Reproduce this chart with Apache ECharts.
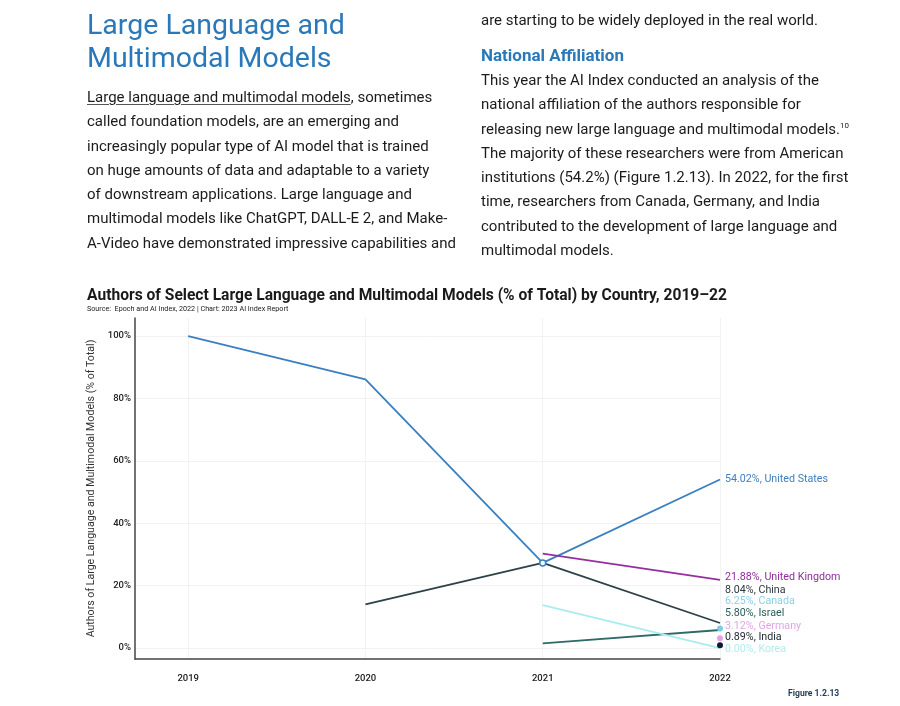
<!DOCTYPE html>
<html>
<head>
<meta charset="utf-8">
<script src="https://cdn.jsdelivr.net/npm/echarts@6/dist/echarts.min.js"></script>
<style>
  html, body { margin: 0; padding: 0; background: #fff; }
  #wrap { position: relative; width: 900px; height: 706px; overflow: hidden; font-family: Roboto, "Noto Sans", sans-serif; color: #1b1b1b; }
  #chart { position: absolute; left: 0; top: 0; width: 900px; height: 706px; }
  .txt { position: absolute; pointer-events: none; }
  .h1 { left: 87px; top: 8px; font-size: 28.5px; line-height: 33px; color: #2a78b8; font-weight: 400; }
  .body { font-size: 15px; line-height: 24.3px; }
  .left { left: 87px; top: 85px; }
  .right { left: 481px; top: 68px; }
  .top { left: 481px; top: 11px; font-size: 15px; }
  .h2 { left: 481px; top: 45px; font-size: 17px; font-weight: 700; color: #2a78b8; }
  u { text-decoration-color: #555; text-underline-offset: 2px; }
  sup { font-size: 8px; line-height: 0; vertical-align: 6px; }
</style>
</head>
<body>
<div id="wrap">
  <div id="chart"></div>
  <div class="txt h1">Large Language and<br>Multimodal Models</div>
  <div class="txt body left"><u>Large language and multimodal models</u>, sometimes<br>called foundation models, are an emerging and<br>increasingly popular type of AI model that is trained<br>on huge amounts of data and adaptable to a variety<br>of downstream applications. Large language and<br>multimodal models like ChatGPT, DALL-E 2, and Make-<br>A-Video have demonstrated impressive capabilities and</div>
  <div class="txt top">are starting to be widely deployed in the real world.</div>
  <div class="txt h2">National Affiliation</div>
  <div class="txt body right">This year the AI Index conducted an analysis of the<br>national affiliation of the authors responsible for<br>releasing new large language and multimodal models.<sup>10</sup><br>The majority of these researchers were from American<br>institutions (54.2%) (Figure 1.2.13). In 2022, for the first<br>time, researchers from Canada, Germany, and India<br>contributed to the development of large language and<br>multimodal models.</div>
</div>
<script>
const years = [2019, 2020, 2021, 2022];
const yTicks = [0, 20, 40, 60, 80, 100];
const unitedStates = [100, 86.1, 27.3, 54.02];
const unitedKingdom = [null, null, 30.3, 21.88];
const china = [null, 14.0, 27.3, 8.04];
const canada = [null, null, null, 6.25];
const israel = [null, null, 1.5, 5.80];
const germany = [null, null, null, 3.12];
const india = [null, null, null, 0.89];
const korea = [null, null, 13.8, 0.00];

const seriesDefs = [
  { name: 'United States', values: unitedStates, color: '#3a7fc1', labelColor: '#3d7fbf', dy: 0 },
  { name: 'United Kingdom', values: unitedKingdom, color: '#932f9f', labelColor: '#8e2e9c', dy: -2 },
  { name: 'China', values: china, color: '#2d4248', labelColor: '#2b3a40', dy: -33 },
  { name: 'Canada', values: canada, color: '#7fcbe8', labelColor: '#8ccfe9', dy: -27 },
  { name: 'Israel', values: israel, color: '#2c6b68', labelColor: '#2d5c5c', dy: -16.5 },
  { name: 'Germany', values: germany, color: '#e3a2ea', labelColor: '#e2a4e8', dy: -12.5 },
  { name: 'India', values: india, color: '#0e1a38', labelColor: '#1e2633', dy: -7.5 },
  { name: 'Korea', values: korea, color: '#a9ecf0', labelColor: '#b3ebef', dy: 1.5 }
];

function buildData(def, single) {
  const last = def.values.length - 1;
  return def.values.map(function (v, i) {
    const item = { value: [years[i], v] };
    if (i === last) {
      item.label = {
        show: true, position: 'right', distance: single ? 2 : 5, offset: [0, def.dy],
        color: def.labelColor, fontSize: 10.7, fontFamily: 'Roboto',
        formatter: function () { return v.toFixed(2) + '%, ' + def.name; }
      };
    }
    return item;
  });
}

const series = seriesDefs.map(function (def) {
  const count = def.values.filter(function (v) { return v !== null; }).length;
  const single = count === 1;
  return {
    name: def.name,
    type: 'line',
    data: buildData(def, single),
    connectNulls: false,
    lineStyle: { color: def.color, width: 1.8 },
    itemStyle: { color: def.color },
    showSymbol: true,
    symbol: 'circle',
    symbolSize: function (val, params) {
      if (single) return 6;
      if (def.name === 'United States' && params.dataIndex === 2) return 6;
      return 0;
    },
    label: { show: false },
    emphasis: { disabled: true },
    animation: false,
    z: single ? 3 : 2
  };
});
// hollow marker for US 2021
series[0].data[2].itemStyle = { color: '#fff', borderColor: '#3a7fc1', borderWidth: 1.5 };

const chart = echarts.init(document.getElementById('chart'), null, { renderer: 'canvas' });
chart.setOption({
  backgroundColor: 'transparent',
  animation: false,
  textStyle: { fontFamily: 'Roboto' },
  title: [
    { text: 'Authors of Select Large Language and Multimodal Models (% of Total) by Country, 2019–22',
      left: 82, top: 283, textStyle: { fontSize: 15.6, fontWeight: 'bold', color: '#1a1a1a', fontFamily: 'Roboto' } },
    { text: 'Source:  Epoch and AI Index, 2022 | Chart: 2023 AI Index Report',
      left: 82, top: 301, textStyle: { fontSize: 7.2, fontWeight: 'normal', color: '#222', fontFamily: 'Roboto' } },
    { text: 'Figure 1.2.13', left: 783, top: 684, textStyle: { fontSize: 8.6, fontWeight: 'bold', color: '#1f3a5a', fontFamily: 'Roboto' } }
  ],
  grid: { left: 135, right: 180, top: 318, bottom: 47, containLabel: false },
  xAxis: {
    type: 'value', min: 2018.7, max: 2022,
    axisLine: { show: true, onZero: false, lineStyle: { color: '#444', width: 1.5 } },
    axisTick: { show: false, customValues: years },
    axisLabel: { customValues: years, formatter: function (v) { return String(v); }, fontSize: 9.5, color: '#222', margin: 15, fontWeight: 500 },
    splitLine: { show: true, lineStyle: { color: '#f2f2f2', width: 1 } }
  },
  yAxis: {
    type: 'value', min: -3.5, max: 105.8,
    name: 'Authors of Large Language and Multimodal Models (% of Total)',
    nameLocation: 'middle', nameGap: 34, nameRotate: 90,
    nameTextStyle: { fontSize: 10.6, color: '#333' },
    axisLine: { show: true, lineStyle: { color: '#444', width: 1.5 } },
    axisTick: { show: false, customValues: yTicks },
    axisLabel: { customValues: yTicks, formatter: '{value}%', fontSize: 9.5, color: '#222', margin: 4, fontWeight: 500 },
    splitLine: { show: true, lineStyle: { color: '#f2f2f2', width: 1 } }
  },
  series: series
});
</script>
</body>
</html>
